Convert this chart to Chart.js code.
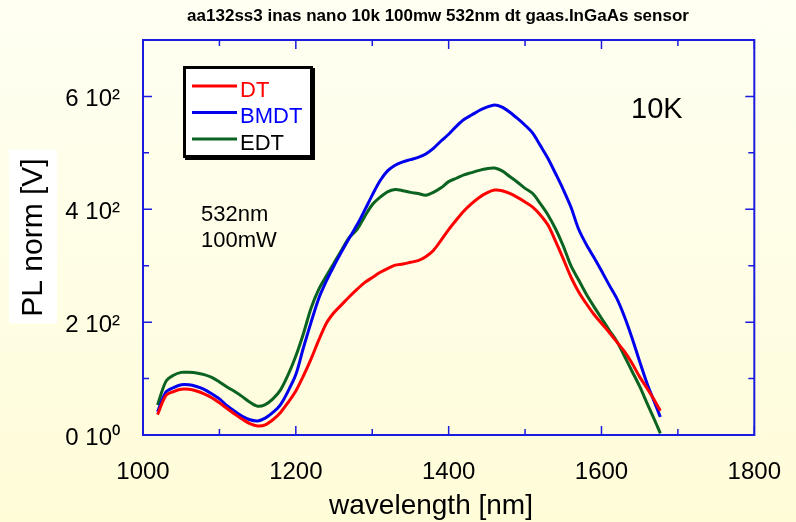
<!DOCTYPE html>
<html lang="en">
<head>
<meta charset="UTF-8">
<title>PL norm 10K</title>
<script src="https://cdn.jsdelivr.net/npm/chart.js"></script>
<style>
  html, body { margin: 0; padding: 0; }
  body { width: 796px; height: 522px; background: linear-gradient(#fffff3, #fffcd8); }
</style>
</head>
<body>
<canvas id="plChart" width="796" height="522"></canvas>
<script>
// wavelength axis of the spectra (nm)
const wavelength = [1019, 1030, 1040, 1050, 1060, 1070, 1080, 1090, 1100, 1110, 1120, 1130, 1140, 1150,
  1160, 1170, 1180, 1190, 1200, 1210, 1220, 1230, 1240, 1250, 1260, 1270, 1280, 1290, 1300, 1310, 1320,
  1330, 1340, 1350, 1360, 1370, 1380, 1390, 1400, 1410, 1420, 1430, 1440, 1450, 1460, 1470, 1480, 1490,
  1500, 1510, 1520, 1530, 1540, 1550, 1560, 1570, 1580, 1590, 1600, 1610, 1620, 1630, 1640, 1650, 1660,
  1670, 1677];

const dt = [36, 70, 77, 81, 81, 78, 73, 66, 57, 47, 37, 28, 20, 16,
  18, 27, 40, 58, 78, 105, 135, 168, 198, 217, 231, 245, 258, 270, 279, 288, 295,
  301, 303, 306, 309, 316, 327, 345, 364, 381, 397, 410, 421, 429, 434, 433, 428, 421,
  413, 404, 390, 372, 343, 312, 280, 254, 233, 214, 198, 182, 165, 148, 127, 103, 82,
  60, 43];

const bmdt = [41, 76, 84, 89, 89, 86, 81, 73, 64, 52, 42, 33, 27, 25,
  30, 40, 54, 78, 107, 155, 200, 242, 273, 300, 325, 349, 372, 398, 425, 450, 468,
  478, 484, 488, 492, 498, 508, 521, 533, 547, 559, 567, 575, 581, 585, 581, 572, 561,
  549, 535, 513, 490, 463, 435, 404, 365, 338, 315, 291, 266, 242, 210, 172, 130, 90,
  56, 32];

const edt = [53, 95, 106, 111, 111, 110, 107, 102, 94, 85, 77, 68, 58, 51,
  54, 64, 80, 107, 140, 180, 225, 258, 282, 305, 328, 350, 364, 387, 408, 421, 431,
  435, 433, 430, 428, 425, 430, 438, 449, 455, 461, 465, 469, 472, 473, 468, 458, 448,
  437, 428, 410, 390, 365, 335, 300, 275, 250, 228, 207, 186, 166, 140, 113, 86, 55,
  25, 3];

const xTicks = [1000, 1200, 1400, 1600, 1800];
const yTicks = [0, 200, 400, 600];
const yTickLabels = ['0 10\u2070', '2 10\u00b2', '4 10\u00b2', '6 10\u00b2'];

const FONT = "'Liberation Sans', Arial, sans-serif";
const frameColor = '#1a1ae0';

function points(values) {
  return values.map((v, i) => ({ x: wavelength[i], y: v }));
}

// box frame with inward ticks on all four sides
const framePlugin = {
  id: 'frame',
  afterDatasetsDraw(chart) {
    const { ctx, chartArea: a, scales: { x, y } } = chart;
    ctx.save();
    ctx.strokeStyle = frameColor;
    ctx.lineWidth = 1.5;
    ctx.beginPath();
    for (let v = x.min; v <= x.max; v += 100) {
      const px = x.getPixelForValue(v);
      const len = v % 200 === 0 ? 9 : 6;
      ctx.moveTo(px, a.bottom); ctx.lineTo(px, a.bottom - len);
      ctx.moveTo(px, a.top); ctx.lineTo(px, a.top + len);
    }
    for (let v = y.min; v <= y.max; v += 100) {
      const py = y.getPixelForValue(v);
      const len = v % 200 === 0 ? 9 : 6;
      ctx.moveTo(a.left, py); ctx.lineTo(a.left + len, py);
      ctx.moveTo(a.right, py); ctx.lineTo(a.right - len, py);
    }
    ctx.stroke();
    ctx.lineWidth = 2;
    ctx.strokeRect(a.left, a.top, a.right - a.left, a.bottom - a.top);
    ctx.restore();
  }
};

// title, axis titles, notes and the boxed legend
const textPlugin = {
  id: 'texts',
  afterDraw(chart) {
    const { ctx, chartArea: a } = chart;
    ctx.save();
    ctx.fillStyle = '#000';

    ctx.font = 'bold 17px ' + FONT;
    ctx.textAlign = 'center';
    ctx.textBaseline = 'alphabetic';
    ctx.fillText('aa132ss3 inas nano 10k 100mw 532nm dt gaas.InGaAs sensor', 438, 21);

    ctx.font = '28px ' + FONT;
    ctx.fillText('wavelength [nm]', 431, 514);

    // y title on a white patch
    const midY = (a.top + a.bottom) / 2;
    ctx.fillStyle = '#fff';
    ctx.fillRect(9, midY - 88, 48, 174);
    ctx.fillStyle = '#000';
    ctx.translate(34, midY);
    ctx.rotate(-Math.PI / 2);
    ctx.font = '30px ' + FONT;
    ctx.textBaseline = 'middle';
    ctx.fillText('PL norm [V]', 0, 0);
    ctx.setTransform(1, 0, 0, 1, 0, 0);

    ctx.textAlign = 'left';
    ctx.textBaseline = 'alphabetic';
    ctx.font = '22px ' + FONT;
    ctx.fillText('532nm', 201, 221);
    ctx.fillText('100mW', 201, 247);
    ctx.font = '29px ' + FONT;
    ctx.fillText('10K', 631, 118);

    // legend box with drop shadow
    ctx.fillStyle = '#000';
    ctx.fillRect(185, 68, 130, 92);
    ctx.fillRect(183, 66, 130, 92);
    ctx.fillStyle = '#fff';
    ctx.fillRect(186, 69, 124, 86);
    const textColors = ['#ff0000', '#0000ff', '#000000'];
    chart.data.datasets.forEach((ds, i) => {
      const ly = 86 + i * 26.5;
      ctx.strokeStyle = ds.borderColor;
      ctx.lineWidth = 3;
      ctx.beginPath();
      ctx.moveTo(192, ly);
      ctx.lineTo(237, ly);
      ctx.stroke();
      ctx.fillStyle = textColors[i];
      ctx.font = '22px ' + FONT;
      ctx.fillText(ds.label, 240, ly + 10.5);
    });
    ctx.restore();
  }
};

const ctx = document.getElementById('plChart').getContext('2d');

const plChart = new Chart(ctx, {
  type: 'line',
  data: {
    datasets: [
      { label: 'DT', data: points(dt), borderColor: '#ff0000' },
      { label: 'BMDT', data: points(bmdt), borderColor: '#0000ee' },
      { label: 'EDT', data: points(edt), borderColor: '#0b6321' }
    ]
  },
  options: {
    responsive: false,
    animation: false,
    devicePixelRatio: 1,
    layout: { padding: { top: 40, right: 41 } },
    elements: {
      point: { radius: 0 },
      line: { borderWidth: 3, tension: 0.3, fill: false }
    },
    plugins: {
      legend: { display: false },
      tooltip: { enabled: false }
    },
    scales: {
      x: {
        type: 'linear',
        min: 1000,
        max: 1800,
        grid: { display: false },
        border: { display: false },
        afterBuildTicks: axis => { axis.ticks = xTicks.map(v => ({ value: v })); },
        afterFit: axis => { axis.height = 87; },
        ticks: {
          color: '#000',
          font: { family: FONT, size: 24 },
          padding: 15,
          maxRotation: 0,
          callback: v => String(v)
        }
      },
      y: {
        min: 0,
        max: 700,
        grid: { display: false },
        border: { display: false },
        afterBuildTicks: axis => { axis.ticks = yTicks.map(v => ({ value: v })); },
        afterFit: axis => { axis.width = 143; },
        ticks: {
          color: '#000',
          font: { family: FONT, size: 24 },
          padding: 15,
          labelOffset: 3,
          callback: v => yTickLabels[yTicks.indexOf(v)]
        }
      }
    }
  },
  plugins: [framePlugin, textPlugin]
});
</script>
</body>
</html>
